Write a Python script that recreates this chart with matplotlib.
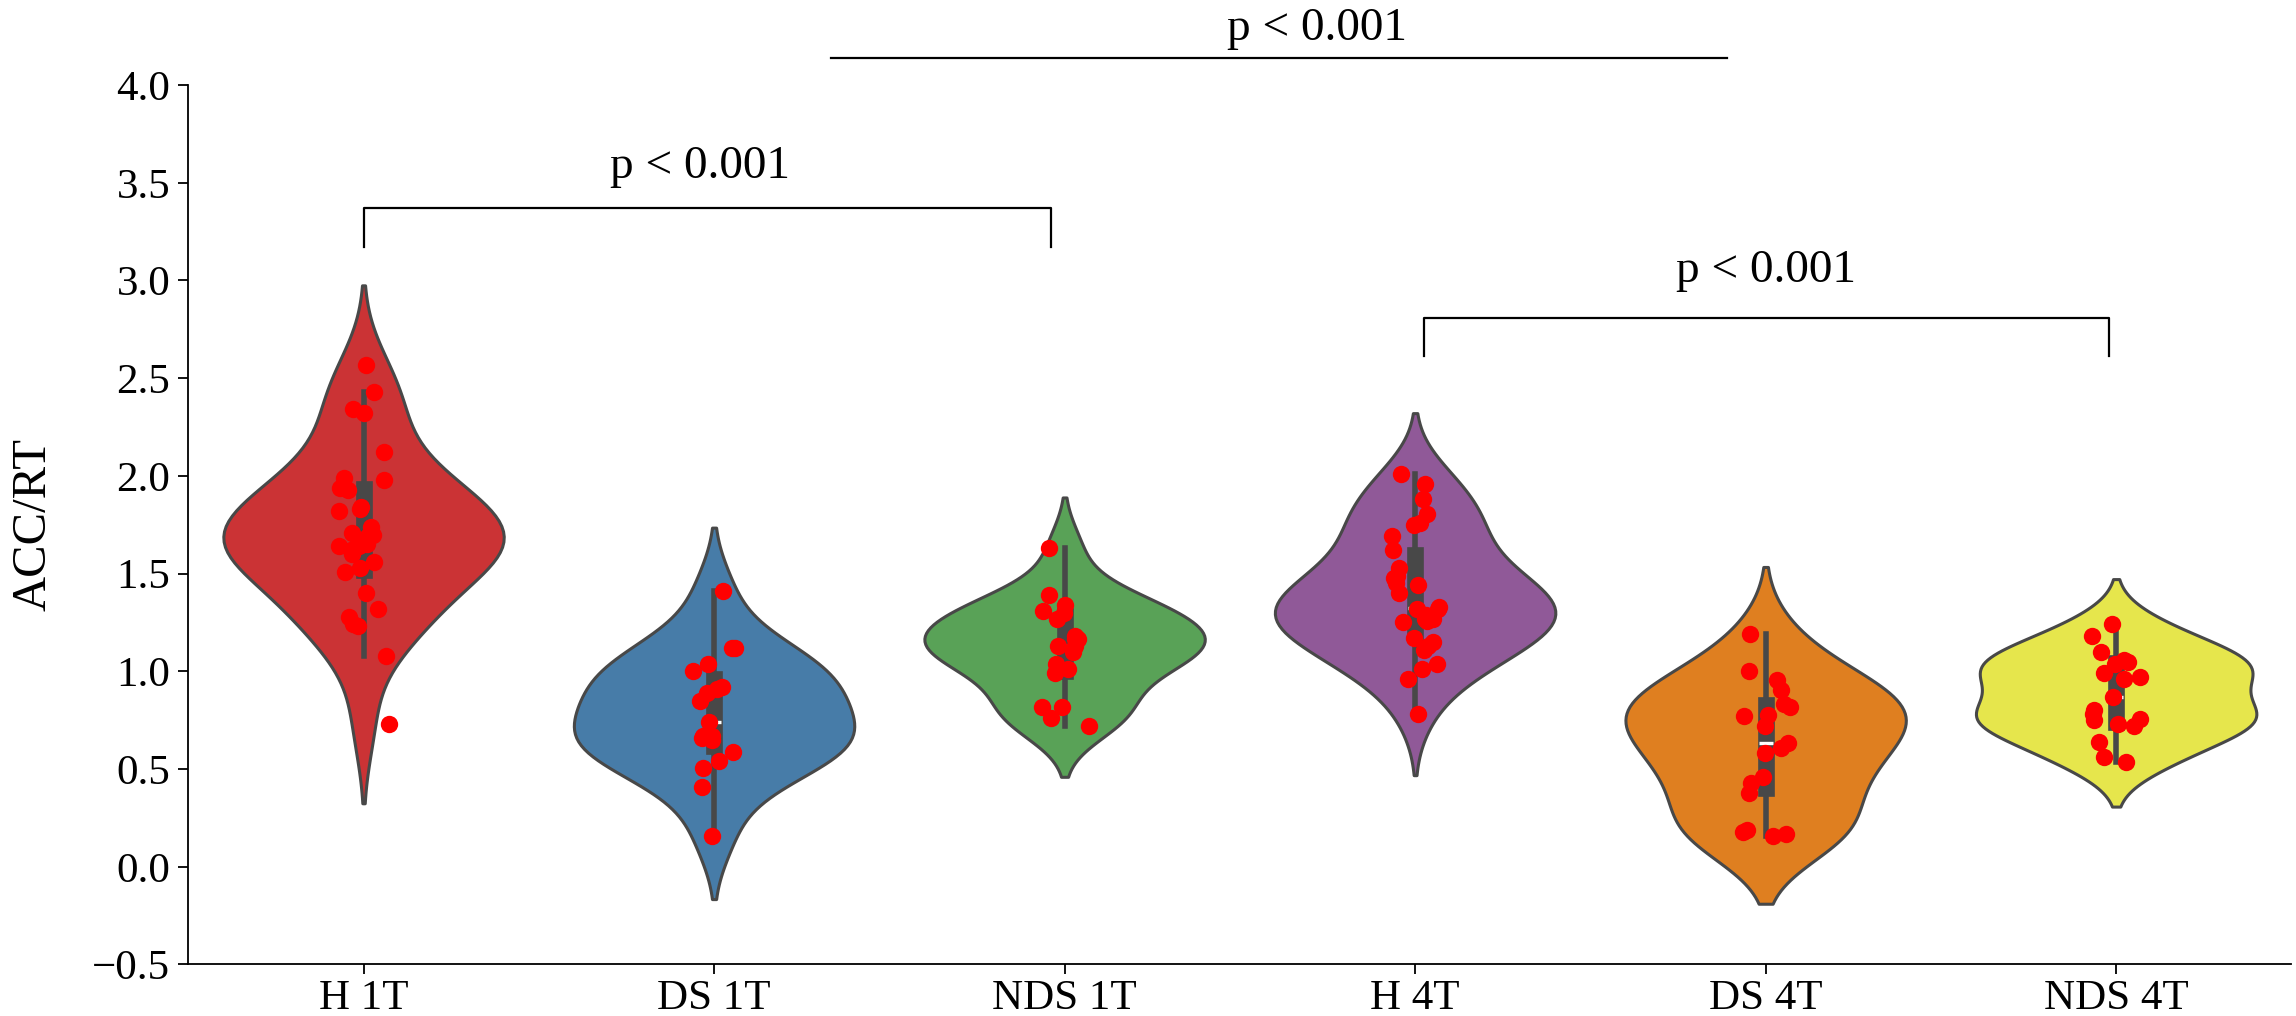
import numpy as np
import pandas as pd
import matplotlib
matplotlib.use("Agg")
import matplotlib.pyplot as plt
import seaborn as sns

# valores (ACC/RT por sujeto)
groups = ["H 1T", "DS 1T", "NDS 1T", "H 4T", "DS 4T", "NDS 4T"]

h_1t = [2.57, 2.43, 2.34, 2.32, 2.12, 1.98, 1.99, 1.93, 1.94, 1.83, 1.82, 1.84,
        1.74, 1.71, 1.70, 1.69, 1.64, 1.65, 1.62, 1.64, 1.60, 1.56, 1.53, 1.51,
        1.40, 1.32, 1.24, 1.28, 1.23, 1.08, 0.73]
ds_1t = [1.41, 1.12, 1.12, 1.04, 1.00, 0.92, 0.91, 0.89, 0.85, 0.74, 0.65, 0.66,
         0.67, 0.67, 0.585, 0.54, 0.505, 0.41, 0.16]
nds_1t = [1.63, 1.39, 1.34, 1.31, 1.30, 1.27, 1.18, 1.165, 1.165, 1.13, 1.13,
          1.10, 1.04, 1.01, 0.99, 0.82, 0.82, 0.76, 0.72]
h_4t = [2.01, 1.96, 1.88, 1.805, 1.75, 1.76, 1.69, 1.62, 1.53, 1.49, 1.48, 1.45,
        1.44, 1.40, 1.33, 1.27, 1.32, 1.29, 1.25, 1.32, 1.27, 1.26, 1.17, 1.15,
        1.13, 1.11, 1.04, 1.01, 0.96, 0.78]
ds_4t = [1.19, 1.00, 0.957, 0.906, 0.82, 0.833, 0.778, 0.773, 0.72, 0.633, 0.61,
         0.58, 0.46, 0.43, 0.38, 0.18, 0.17, 0.155, 0.186]
nds_4t = [1.244, 1.18, 1.10, 1.05, 1.06, 1.04, 0.99, 0.96, 0.97, 0.867, 0.80,
          0.78, 0.75, 0.756, 0.73, 0.72, 0.64, 0.56, 0.536]

values = [h_1t, ds_1t, nds_1t, h_4t, ds_4t, nds_4t]

# corchetes: (x izq, x der, altura, fin de patas, x texto, y texto)
brackets = [(0, 1.96, 3.37, 3.17, 0.96, 3.58),
            (3.025, 4.98, 2.81, 2.615, 4.0, 3.05)]
top_line = (1.335, 3.89, 4.14)
top_text = (2.72, 4.29)
p_label = "p < 0.001"

df = pd.DataFrame({
    "group": np.repeat(groups, [len(v) for v in values]),
    "value": np.concatenate(values),
})

plt.rcParams["font.family"] = ["Liberation Serif", "DejaVu Serif"]

fig = plt.figure(figsize=(22.96, 10.16), dpi=100)
ax = fig.add_axes([0.082, 0.0507, 0.916, 0.8656])

sns.violinplot(data=df, x="group", y="value", hue="group", palette="Set1",
               legend=False, density_norm="width", linewidth=2.2,
               inner_kws=dict(box_width=12, whis_width=4), ax=ax)

np.random.seed(3)
sns.stripplot(data=df, x="group", y="value", color="red", size=12.5,
              jitter=0.075, linewidth=0, ax=ax, zorder=5)

ax.set_ylim(-0.5, 4.0)
ax.set_xlim(-0.5, 5.5)
ax.set_yticks(np.arange(-0.5, 4.01, 0.5))
ax.set_xlabel("")
ax.set_ylabel("ACC/RT", fontsize=35)
ax.yaxis.set_label_coords(-0.063, 0.5)
ax.tick_params(axis="both", labelsize=31, width=1.3, length=7)
ax.tick_params(axis="y", pad=6)
ax.spines["top"].set_visible(False)
ax.spines["right"].set_visible(False)
ax.spines["left"].set_linewidth(1.3)
ax.spines["bottom"].set_linewidth(1.3)

# corchetes de significancia
for x1, x2, y, y_leg, tx, ty in brackets:
    ax.plot([x1, x1, x2, x2], [y_leg, y, y, y_leg], color="black", lw=1.6,
            clip_on=False)
    ax.text(tx, ty, p_label, ha="center", va="center", fontsize=34)

ax.plot([top_line[0], top_line[1]], [top_line[2], top_line[2]], color="black",
        lw=1.6, clip_on=False)
ax.text(top_text[0], top_text[1], p_label, ha="center", va="center",
        fontsize=34, clip_on=False)

fig.savefig("out.png", dpi=100)
